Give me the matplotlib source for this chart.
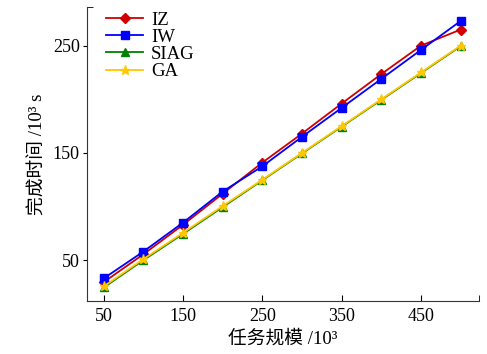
import matplotlib
matplotlib.use('Agg')
import matplotlib.pyplot as plt

plt.rcParams['font.family'] = ['Liberation Serif', 'Noto Sans CJK SC']

# 任务规模 (10^3)
scale = [50, 100, 150, 200, 250, 300, 350, 400, 450, 500]
# 完成时间 (10^3 s)
iz = [29.5, 55.5, 83, 112, 141, 168, 196, 223.5, 250, 265]
iw = [33, 58, 85, 114, 137.5, 165, 192, 219, 246, 273]
siag = [24.5, 50, 74.5, 99.5, 124.5, 149.5, 174.5, 199.5, 224.5, 249.5]
ga = [25.5, 51, 75.5, 100.5, 125, 150, 175, 200, 225, 250]

xticks = [50, 150, 250, 350, 450]
yticks = [50, 150, 250]

fig = plt.figure(figsize=(4.87, 3.54), dpi=100)
ax = fig.add_axes([0.178, 0.15, 0.806, 0.83])

ax.plot(scale, iz, color='#d00000', marker='D', markersize=5.5, lw=1.3, label='IZ')
ax.plot(scale, iw, color='#0000ff', marker='s', markersize=6, lw=1.3, label='IW')
ax.plot(scale, siag, color='#008000', marker='^', markersize=5.5, lw=1.3, label='SIAG')
ax.plot(scale, ga, color='#ffc800', marker='*', markersize=6.5, lw=1.3, label='GA')

ax.set_xlim(28.5, 523.5)
ax.set_ylim(12, 286)
ax.set_xticks(xticks)
ax.set_yticks(yticks)
ax.set_xticks([523.5], minor=True)
ax.set_yticks([286], minor=True)
ax.tick_params(axis='x', direction='in', length=4, labelsize=13, pad=5)
ax.tick_params(axis='y', direction='out', length=3, labelsize=13, pad=2)
ax.tick_params(axis='x', which='minor', direction='in', length=4)
ax.tick_params(axis='y', which='minor', direction='in', length=4)

for s in ['top', 'right']:
    ax.spines[s].set_visible(False)
for s in ['left', 'bottom']:
    ax.spines[s].set_color('#333333')

ax.set_xlabel('任务规模 /10³', fontsize=13.5)
ax.set_ylabel('完成时间 /10³ s', fontsize=13.5)

ax.legend(loc='upper left', frameon=False, fontsize=13.5, handlelength=2.0,
          handletextpad=0.4, labelspacing=0.0, borderaxespad=0.0,
          bbox_to_anchor=(0.03, 1.01))

fig.savefig('out.png', dpi=100)
